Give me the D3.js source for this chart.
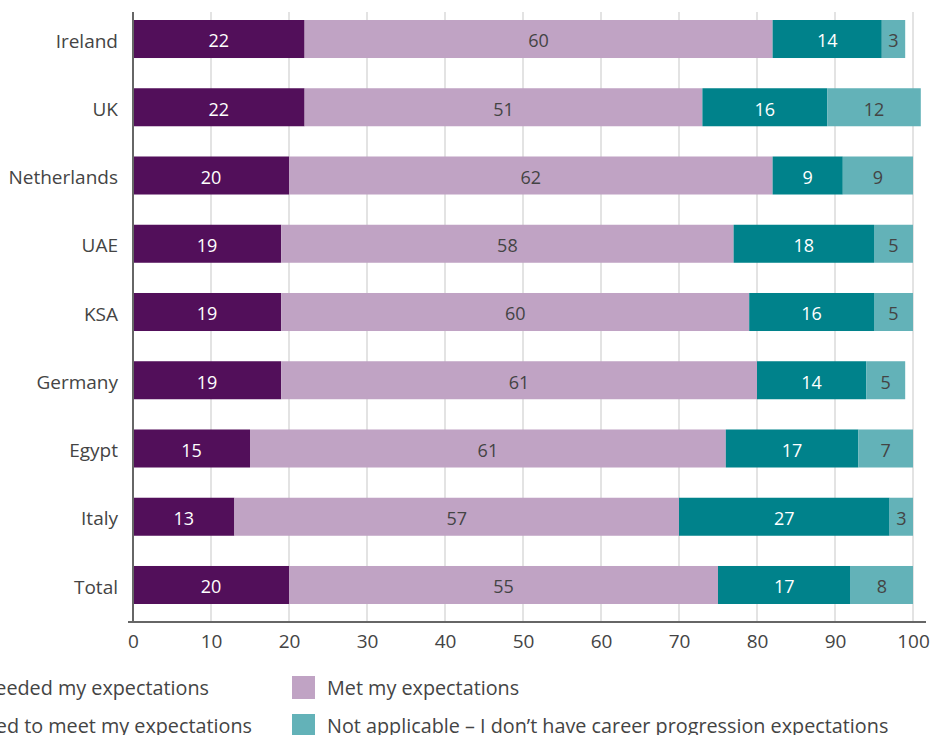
<!DOCTYPE html>
<html>
<head>
<meta charset="utf-8">
<script src="https://cdn.jsdelivr.net/npm/d3@7"></script>
<style>
  html, body { margin: 0; padding: 0; background: #fff; }
  svg { display: block; font-family: "Open Sans", sans-serif; }
</style>
</head>
<body>
<svg id="chart" width="930" height="735"></svg>
<script>
// Career progression expectations by country (%)
const countries = ["Ireland", "UK", "Netherlands", "UAE", "KSA", "Germany", "Egypt", "Italy", "Total"];
const exceeded   = [22, 22, 20, 19, 19, 19, 15, 13, 20];
const met        = [60, 51, 62, 58, 60, 61, 61, 57, 55];
const failed     = [14, 16,  9, 18, 16, 14, 17, 27, 17];
const notApplic  = [ 3, 12,  9,  5,  5,  5,  7,  3,  8];
const seriesNames = [
  "Exceeded my expectations",
  "Met my expectations",
  "Failed to meet my expectations",
  "Not applicable – I don’t have career progression expectations"
];
const xTicks = [0, 10, 20, 30, 40, 50, 60, 70, 80, 90, 100];

const colors = ["#520f5a", "#c0a3c4", "#00828b", "#63b2b8"];
const labelColors = ["#ffffff", "#444444", "#ffffff", "#444444"];

const keys = ["exceeded", "met", "failed", "na"];
const rows = countries.map((c, i) => ({
  country: c, exceeded: exceeded[i], met: met[i], failed: failed[i], na: notApplic[i]
}));

const svg = d3.select("#chart");
const x = d3.scaleLinear().domain([0, 100]).range([133, 913]);
const y = d3.scaleBand().domain(countries).range([20, 604]).paddingInner(0.443).paddingOuter(0);

const plotTop = 12, plotBottom = 622;

// vertical gridlines
svg.append("g").selectAll("line")
  .data(xTicks.filter(t => t > 0))
  .join("line")
  .attr("x1", d => x(d)).attr("x2", d => x(d))
  .attr("y1", plotTop).attr("y2", plotBottom)
  .attr("stroke", "#d0d0d0").attr("stroke-width", 1.2);

// stacked bars
const stack = d3.stack().keys(keys)(rows);
const layers = svg.append("g").selectAll("g")
  .data(stack).join("g")
  .attr("fill", (d, i) => colors[i]);

layers.selectAll("rect")
  .data(d => d)
  .join("rect")
  .attr("x", d => x(d[0]))
  .attr("width", d => x(d[1]) - x(d[0]))
  .attr("y", d => y(d.data.country))
  .attr("height", y.bandwidth());

// segment value labels
const labelLayer = svg.append("g").attr("font-size", 18).attr("text-anchor", "middle");
stack.forEach((layer, i) => {
  labelLayer.append("g").attr("fill", labelColors[i]).selectAll("text")
    .data(layer).join("text")
    .attr("x", d => (x(d[0]) + x(d[1])) / 2)
    .attr("y", d => y(d.data.country) + y.bandwidth() / 2 + 2)
    .attr("dy", "0.35em")
    .text(d => d[1] - d[0]);
});

// y axis line and category labels
svg.append("line")
  .attr("x1", x(0)).attr("x2", x(0))
  .attr("y1", plotTop).attr("y2", plotBottom)
  .attr("stroke", "#666").attr("stroke-width", 2);

svg.append("g").attr("font-size", 19).attr("fill", "#444").attr("text-anchor", "end")
  .selectAll("text").data(countries).join("text")
  .attr("x", 118)
  .attr("y", d => y(d) + y.bandwidth() / 2 + 2)
  .attr("dy", "0.35em")
  .text(d => d);

// x axis
const xAxis = svg.append("g")
  .attr("transform", `translate(0,${plotBottom})`)
  .call(d3.axisBottom(x).tickValues(xTicks).tickSize(0).tickPadding(13));
xAxis.select(".domain").remove();
xAxis.selectAll("text").attr("font-size", 19).attr("fill", "#444").attr("font-family", "\"Open Sans\", sans-serif");
svg.append("line")
  .attr("x1", 128).attr("x2", 926)
  .attr("y1", plotBottom).attr("y2", plotBottom)
  .attr("stroke", "#666").attr("stroke-width", 2);

// legend
const legend = [
  { name: seriesNames[0], color: colors[0], xEnd: 209, y: 688 },
  { name: seriesNames[1], color: colors[1], swatch: 292, y: 688 },
  { name: seriesNames[2], color: colors[2], xEnd: 252, y: 726 },
  { name: seriesNames[3], color: colors[3], swatch: 292, y: 726 }
];
const lg = svg.append("g").attr("font-size", 19.8).attr("fill", "#444");
legend.forEach(l => {
  if (l.swatch !== undefined) {
    lg.append("rect").attr("x", l.swatch).attr("y", l.y - 12).attr("width", 23).attr("height", 23).attr("fill", l.color);
    lg.append("text").attr("x", l.swatch + 35).attr("y", l.y).attr("dy", "0.35em").text(l.name);
  } else {
    const t = lg.append("text").attr("x", l.xEnd).attr("y", l.y).attr("dy", "0.35em")
      .attr("text-anchor", "end").text(l.name);
    const w = t.node().getComputedTextLength();
    lg.append("rect").attr("x", l.xEnd - w - 35).attr("y", l.y - 12).attr("width", 23).attr("height", 23).attr("fill", l.color);
  }
});
</script>
</body>
</html>
